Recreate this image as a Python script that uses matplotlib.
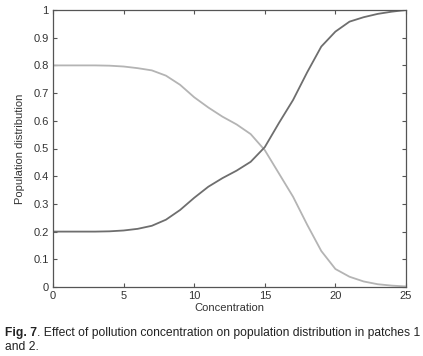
import matplotlib
matplotlib.use("Agg")
import matplotlib.pyplot as plt

concentration = [0, 1, 2, 3, 4, 5, 6, 7, 8, 9, 10, 11, 12, 13, 14, 15, 16, 17, 18, 19, 20, 21, 22, 23, 24, 25]
patch1 = [0.8, 0.8, 0.8, 0.8, 0.799, 0.796, 0.79, 0.782, 0.763, 0.73, 0.685, 0.648, 0.615, 0.587, 0.552, 0.494,
          0.41, 0.326, 0.225, 0.13, 0.065, 0.037, 0.02, 0.01, 0.005, 0.002]
patch2 = [0.2, 0.2, 0.2, 0.2, 0.201, 0.204, 0.21, 0.221, 0.243, 0.278, 0.322, 0.362, 0.393, 0.42, 0.452, 0.505,
          0.592, 0.675, 0.775, 0.868, 0.922, 0.958, 0.974, 0.986, 0.994, 1.0]
xticks = [0, 5, 10, 15, 20, 25]
yticks = [0, 0.1, 0.2, 0.3, 0.4, 0.5, 0.6, 0.7, 0.8, 0.9, 1]
yticklabels = ["0", "0.1", "0.2", "0.3", "0.4", "0.5", "0.6", "0.7", "0.8", "0.9", "1"]

plt.rcParams['font.family'] = ['Liberation Sans', 'DejaVu Sans']

W, H = 423, 356
fig = plt.figure(figsize=(W / 100, H / 100), dpi=100)
ax = fig.add_axes([53 / W, 1 - 287 / H, (406 - 53) / W, (287 - 10) / H])

ax.plot(concentration, patch1, color='#b4b4b4', lw=1.3)
ax.plot(concentration, patch2, color='#6e6e6e', lw=1.3)

ax.set_xlim(0, 25)
ax.set_ylim(0, 1)
ax.set_xticks(xticks)
ax.set_yticks(yticks)
ax.set_yticklabels(yticklabels)
ax.tick_params(direction='in', length=3, width=0.8, colors='#555555', labelcolor='#333333',
               labelsize=8, top=True, right=True, pad=3)
for s in ax.spines.values():
    s.set_color('#555555')
    s.set_linewidth(0.9)

ax.set_xlabel('Concentration', fontsize=8, color='#333333', labelpad=1)
ax.set_ylabel('Population distribution', fontsize=8, color='#333333', labelpad=6)

fig.canvas.draw()
renderer = fig.canvas.get_renderer()
t1 = fig.text(5 / W, 1 - 336 / H, 'Fig. 7', fontsize=8.75, fontweight='bold', color='#222222')
bb = t1.get_window_extent(renderer)
fig.text(bb.x1 / W, 1 - 336 / H,
         '. Effect of pollution concentration on population distribution in patches 1',
         fontsize=8.75, color='#222222')
fig.text(5 / W, 1 - 350 / H, 'and 2.', fontsize=8.75, color='#222222')

fig.savefig('out.png', dpi=100, facecolor='white')
